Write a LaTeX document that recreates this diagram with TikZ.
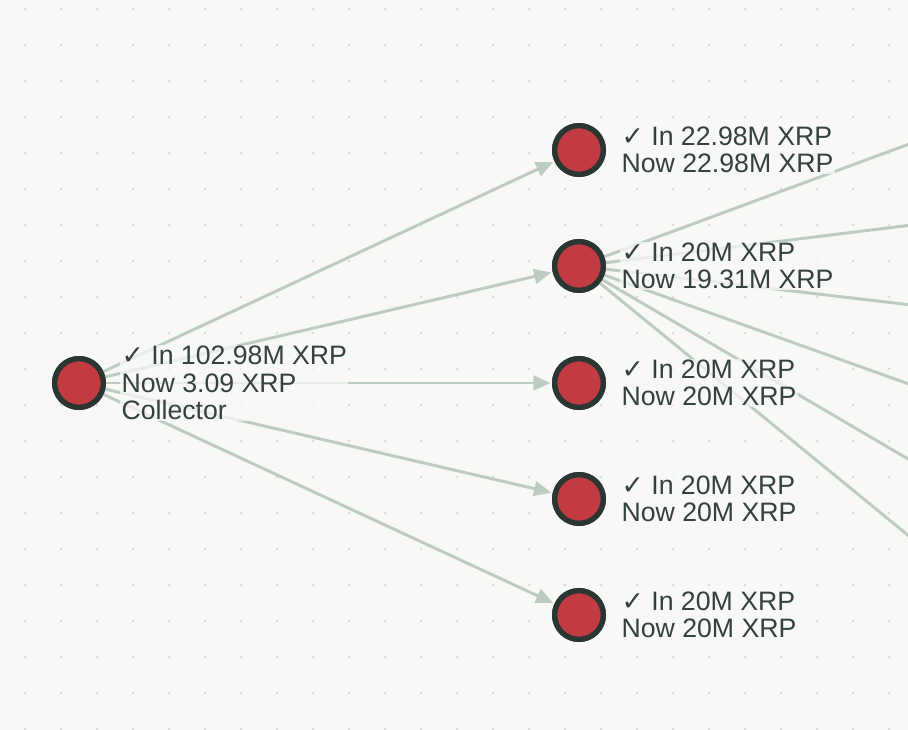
\documentclass[tikz,border=0pt]{standalone}
\usepackage{fontspec}
\setmainfont{Liberation Sans}
\newfontfamily\symf{DejaVu Sans}
\usetikzlibrary{arrows.meta}
\definecolor{bg}{HTML}{F8F8F6}
\definecolor{dotc}{HTML}{D8DBD8}
\definecolor{edge}{HTML}{BDCCC2}
\definecolor{nfill}{HTML}{C23B42}
\definecolor{nline}{HTML}{2B3532}
\definecolor{txt}{HTML}{34413E}
\begin{document}
\begin{tikzpicture}[x=0.75pt,y=-0.75pt,
  acc/.style={circle,draw=nline,line width=4pt,fill=nfill,minimum size=36.5pt,inner sep=0pt},
  lab/.style={anchor=west,align=left,text=txt,font=\fontsize{20}{20.5}\selectfont,inner sep=1pt,fill=bg,fill opacity=0.75,text opacity=1},
  e/.style={draw=edge,line width=2.2pt,-{Triangle[length=13pt,width=11pt]},shorten >=1pt},
  eo/.style={draw=edge,line width=2.2pt}]
\fill[bg] (0,0) rectangle (908,730);
\useasboundingbox (0,0) rectangle (908,730);
\foreach \i in {0,...,25}{\foreach \j in {0,...,20}{\fill[dotc] (25+36*\i,9+36*\j) circle (1.1pt);}}
\node[acc] (c) at (79,383) {};
\node[acc] (a1) at (579,150) {};
\node[acc] (a2) at (579,266) {};
\node[acc] (a3) at (579,383) {};
\node[acc] (a4) at (579,499) {};
\node[acc] (a5) at (579,615) {};
\coordinate (o1) at (920,140);
\coordinate (o2) at (920,224);
\coordinate (o3) at (920,306);
\coordinate (o4) at (920,388);
\coordinate (o5) at (920,466);
\coordinate (o6) at (920,545);
\foreach \t in {o1,o2,o3,o4,o5,o6}{\draw[eo] (a2) -- (\t);}
\foreach \t in {a1,a2,a3,a4,a5}{\draw[e] (c) -- (\t);}
\node[lab] (lc) at (120,383) {{\symf\bfseries ✓} In 102.98M XRP\\Now 3.09 XRP\\Collector};
\node[lab] (l1) at (620,150) {{\symf\bfseries ✓} In 22.98M XRP\\Now 22.98M XRP};
\node[lab] (l2) at (620,266) {{\symf\bfseries ✓} In 20M XRP\\Now 19.31M XRP};
\node[lab] (l3) at (620,383) {{\symf\bfseries ✓} In 20M XRP\\Now 20M XRP};
\node[lab] (l4) at (620,499) {{\symf\bfseries ✓} In 20M XRP\\Now 20M XRP};
\node[lab] (l5) at (620,615) {{\symf\bfseries ✓} In 20M XRP\\Now 20M XRP};
\foreach \n in {c,a1,a2,a3,a4,a5}{\node[acc] at (\n) {};}
\end{tikzpicture}
\end{document}
